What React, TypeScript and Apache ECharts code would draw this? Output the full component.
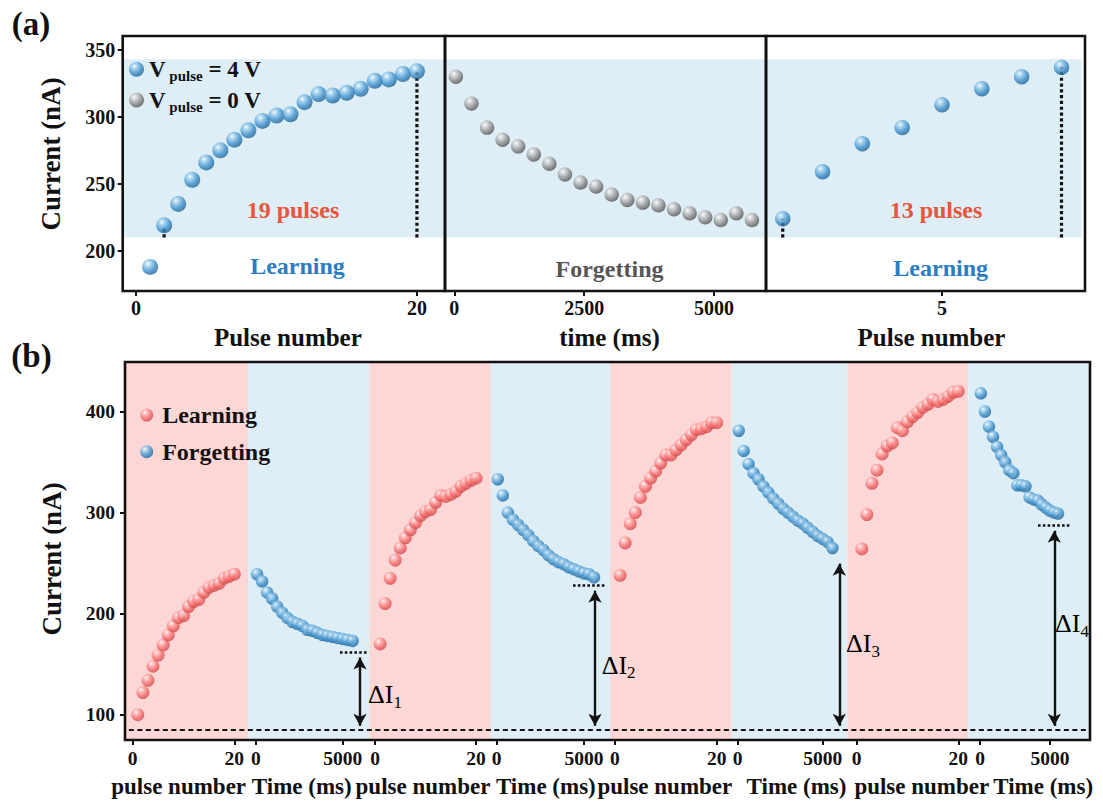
import React, { useEffect, useRef } from 'react';
import * as echarts from 'echarts';

// ---------------- data (a) ----------------
const topLearnPulse = [1, 2, 3, 4, 5, 6, 7, 8, 9, 10, 11, 12, 13, 14, 15, 16, 17, 18, 19, 20];
const topLearnCurrent = [188, 219, 235, 253, 266, 275, 283, 290, 297, 301, 302, 311, 317, 316, 318, 321, 327, 328, 332, 334];
const topForgetTime = [30, 330, 630, 930, 1230, 1530, 1830, 2130, 2430, 2730, 3030, 3330, 3630, 3930, 4230, 4530, 4830, 5130, 5430, 5730];
const topForgetCurrent = [330, 310, 292, 283, 278, 272, 265, 257, 251, 248, 242, 238, 236, 234, 231, 228, 225, 223, 228, 223];
const topRelearnPulse = [1, 2, 3, 4, 5, 6, 7, 8];
const topRelearnCurrent = [224, 259, 280, 292, 309, 321, 330, 337];
const topBand = [210, 343];
const topYTicks = [200, 250, 300, 350];

// ---------------- data (b) ----------------
const learnPulse = [1, 2, 3, 4, 5, 6, 7, 8, 9, 10, 11, 12, 13, 14, 15, 16, 17, 18, 19, 20];
const learn1 = [100, 122, 134, 148, 159, 169, 179, 188, 196, 198, 207, 212, 214, 221, 226, 228, 230, 235, 237, 239];
const learn2 = [170, 210, 235, 253, 265, 275, 283, 290, 297, 301, 303, 310, 317, 316, 318, 321, 326, 329, 332, 334];
const learn3 = [238, 270, 289, 300, 315, 326, 334, 341, 349, 357, 357, 362, 367, 372, 377, 382, 383, 385, 389, 389];
const learn4 = [264, 298, 329, 342, 358, 366, 369, 384, 381, 390, 395, 399, 404, 407, 412, 410, 412, 415, 419, 420];
const forgetTime = [60, 350, 640, 930, 1220, 1510, 1800, 2090, 2380, 2670, 2960, 3250, 3540, 3830, 4120, 4410, 4700, 4990, 5280, 5570];
const forget1 = [239, 232, 221, 215, 207, 201, 196, 192, 190, 188, 184, 183, 181, 179, 178, 177, 176, 175, 174, 173];
const forget2 = [333, 317, 300, 293, 288, 283, 278, 272, 267, 263, 258, 254, 251, 249, 246, 244, 242, 240, 239, 236];
const forget3 = [381, 361, 348, 339, 333, 326, 320, 314, 309, 304, 300, 296, 292, 289, 285, 281, 277, 274, 271, 265];
const forget4 = [418, 400, 385, 375, 365, 357, 350, 342, 339, 327, 327, 326, 315, 313, 312, 308, 305, 302, 300, 299];
const learnSets = [learn1, learn2, learn3, learn4];
const forgetSets = [forget1, forget2, forget3, forget4];
const baseline = 85;
const deltaTop = [161.7, 227.7, 254.5, 287];
const arrowTime = [5998, 5630, 5976, 5307];
const dotSpan = [[4844, 6459], [4370, 6203], [4841, 6782], [4143, 6429]];
const botYTicks = [100, 200, 300, 400];

// ---------------- layout / style ----------------
const FONT = "'Liberation Serif', 'Times New Roman', Times, serif";
const INK = '#111111';
const BAND = '#DDEEF7';
const PINK = '#FDD6D6';
const bold = (size: number) => ({ fontFamily: FONT, fontWeight: 'bold' as const, fontSize: size, color: INK });
const plain = (v: number) => String(v);

const sphere = (light: string, mid: string, dark: string) => ({
  type: 'radial', x: 0.36, y: 0.3, r: 0.75,
  colorStops: [
    { offset: 0, color: '#ffffff' },
    { offset: 0.2, color: light },
    { offset: 0.62, color: mid },
    { offset: 1, color: dark },
  ],
});
const blueBall = sphere('#a6d3f0', '#3d8fca', '#1d5c8c');
const grayBall = sphere('#d6d6d6', '#8a8a8a', '#4a4a4a');
const redBall = sphere('#ffc0c0', '#f46c6c', '#c84545');

const topBoxes = [
  { left: 122.7, width: 322.3 },
  { left: 445, width: 321 },
  { left: 766, width: 319 },
];
const botEdges = [125, 248.3, 369.3, 490.7, 610, 731.7, 847.3, 968.3, 1090];
const botLearnRange = [[-1.52, 22.76], [-1.13, 22.9], [-0.98, 22.95], [-1.85, 21.97]];
const botForgetRange = [[-444, 6534], [-344, 6489], [-353, 6447], [-836, 7857]];
const learnNamePad = [[0, 16, 0, 0], [0, 14, 0, 0], [0, 12, 0, 0], [0, 0, 0, 28]];
const forgetNamePad = [[0, 14, 0, 0], [0, 9, 0, 0], [0, 0, 0, 14], [0, 0, 0, 28]];

function xAx(gi: number, min: number, max: number, ticks: number[], name: string, nameSize: number, labelSize: number, gap: number, margin: number, pad: number[]) {
  return {
    type: 'value', gridIndex: gi, min, max,
    axisLine: { show: false, onZero: false },
    axisTick: { show: true, inside: false, customValues: ticks, length: 5, lineStyle: { color: INK, width: 2 } },
    axisLabel: { show: true, customValues: ticks, margin, formatter: plain, ...bold(labelSize) },
    splitLine: { show: false },
    name, nameLocation: 'middle', nameGap: gap, nameMoveOverlap: false,
    nameTextStyle: { ...bold(nameSize), padding: pad },
  };
}
function yAx(gi: number, min: number, max: number, ticks: number[] | null, labelSize: number, margin: number) {
  if (!ticks) return { type: 'value', gridIndex: gi, min, max, show: false, axisLine: { onZero: false }, splitLine: { show: false } };
  return {
    type: 'value', gridIndex: gi, min, max,
    axisLine: { show: false, onZero: false },
    axisTick: { show: true, inside: false, customValues: ticks, length: 5, lineStyle: { color: INK, width: 2 } },
    axisLabel: { show: true, customValues: ticks, margin, formatter: plain, ...bold(labelSize) },
    splitLine: { show: false },
  };
}
const zip = (xs: number[], ys: number[]) => xs.map((x, i) => [x, ys[i]]);
const dottedV = (gi: number, x: number, y1: number, y2: number) => ({
  type: 'line', xAxisIndex: gi, yAxisIndex: gi, z: 2, symbol: 'none', silent: true,
  data: [[x, y1], [x, y2]],
  lineStyle: { color: INK, width: 3.2, type: [3.2, 2.6], cap: 'butt' },
});

function buildOption() {
  const grids: any[] = [];
  const xAxes: any[] = [];
  const yAxes: any[] = [];
  const series: any[] = [];

  // ----- top (a) -----
  topBoxes.forEach((b) =>
    grids.push({
      left: b.left, top: 36, width: b.width, height: 255, show: true,
      backgroundColor: 'rgba(0,0,0,0)', borderColor: INK, borderWidth: 2.6, z: 10,
      containLabel: false, outerBoundsMode: 'none',
    })
  );
  xAxes.push(xAx(0, -0.95, 22, [0, 20], 'Pulse number', 25, 20, 33.5, 7, [0, 0, 0, 8]));
  xAxes.push(xAx(1, -179, 6001, [0, 2500, 5000], 'time (ms)', 25, 20, 33.5, 7, [0, 0, 0, 8]));
  xAxes.push(xAx(2, 0.58, 8.59, [5], 'Pulse number', 25, 20, 33.5, 7, [0, 0, 0, 12]));
  yAxes.push(yAx(0, 170, 360.4, topYTicks, 20, 7.5));
  yAxes.push(yAx(1, 170, 360.4, null, 20, 7));
  yAxes.push(yAx(2, 170, 360.4, null, 20, 7));

  series.push(dottedV(0, topLearnPulse[1], topBand[0], topLearnCurrent[1]));
  series.push(dottedV(0, topLearnPulse[19], topBand[0], topLearnCurrent[19]));
  series.push({
    type: 'scatter', name: 'Vpulse = 4 V', xAxisIndex: 0, yAxisIndex: 0, z: 3, clip: false,
    symbolSize: 16, itemStyle: { color: blueBall }, data: zip(topLearnPulse, topLearnCurrent),
    markArea: { silent: true, itemStyle: { color: BAND, opacity: 1 }, data: [[{ yAxis: topBand[0] }, { yAxis: topBand[1] }]] },
  });
  series.push({
    type: 'scatter', name: 'Vpulse = 0 V', xAxisIndex: 1, yAxisIndex: 1, z: 3, clip: false,
    symbolSize: 14.5, itemStyle: { color: grayBall }, data: zip(topForgetTime, topForgetCurrent),
    markArea: { silent: true, itemStyle: { color: BAND, opacity: 1 }, data: [[{ yAxis: topBand[0] }, { yAxis: topBand[1] }]] },
  });
  series.push(dottedV(2, topRelearnPulse[0], topBand[0], topRelearnCurrent[0]));
  series.push(dottedV(2, topRelearnPulse[7], topBand[0], topRelearnCurrent[7]));
  series.push({
    type: 'scatter', name: 'Vpulse = 4 V', xAxisIndex: 2, yAxisIndex: 2, z: 3, clip: false,
    symbolSize: 15.5, itemStyle: { color: blueBall }, data: zip(topRelearnPulse, topRelearnCurrent),
    markArea: { silent: true, itemStyle: { color: BAND, opacity: 1 }, data: [[{ yAxis: topBand[0], xAxis: 0.58 }, { yAxis: topBand[1], xAxis: 8.5 }]] },
  });

  // ----- bottom (b) -----
  for (let s = 0; s < 8; s++) {
    const gi = 3 + s;
    const learning = s % 2 === 0;
    const k = Math.floor(s / 2);
    grids.push({
      left: botEdges[s], top: 362, width: botEdges[s + 1] - botEdges[s], height: 378, show: true,
      backgroundColor: learning ? PINK : BAND, borderWidth: 0, containLabel: false, outerBoundsMode: 'none',
    });
    if (learning) {
      xAxes.push(xAx(gi, botLearnRange[k][0], botLearnRange[k][1], [0, 20], 'pulse number', 23, 19.5, 34.5, 8, learnNamePad[k]));
    } else {
      xAxes.push(xAx(gi, botForgetRange[k][0], botForgetRange[k][1], [0, 5000], 'Time (ms)', 23, 19.5, 34.5, 8, forgetNamePad[k]));
    }
    yAxes.push(s === 0 ? yAx(gi, 75, 449, botYTicks, 19.5, 10) : yAx(gi, 75, 449, null, 19, 8));

    if (learning) {
      series.push({
        type: 'scatter', name: 'Learning', xAxisIndex: gi, yAxisIndex: gi, z: 3, clip: false,
        symbolSize: 13, itemStyle: { color: redBall }, data: zip(learnPulse, learnSets[k]),
      });
    } else {
      const t = arrowTime[k];
      series.push({
        type: 'scatter', name: 'Forgetting', xAxisIndex: gi, yAxisIndex: gi, z: 3, clip: false,
        symbolSize: 12.5, itemStyle: { color: blueBall }, data: zip(forgetTime, forgetSets[k]),
        markLine: {
          silent: true, symbol: ['arrow', 'arrow'], symbolSize: [10, 12],
          label: { show: false },
          lineStyle: { color: INK, width: 2.4, type: 'solid' },
          data: [
            [{ coord: [t, deltaTop[k] - 5] }, { coord: [t, baseline + 4] }],
            [
              { coord: [dotSpan[k][0], deltaTop[k]], symbol: 'none', lineStyle: { color: INK, width: 2.6, type: [2.6, 2.2] } },
              { coord: [dotSpan[k][1], deltaTop[k]], symbol: 'none', lineStyle: { color: INK, width: 2.6, type: [2.6, 2.2] } },
            ],
          ],
        },
      });
    }
  }
  // outer frame of (b)
  grids.push({
    left: 125, top: 362, width: 965, height: 378, show: true, backgroundColor: 'rgba(0,0,0,0)',
    borderColor: INK, borderWidth: 2.6, z: 10, containLabel: false, outerBoundsMode: 'none',
  });
  xAxes.push({ type: 'value', gridIndex: 11, min: 0, max: 1, show: false, axisLine: { onZero: false }, splitLine: { show: false } });
  yAxes.push({ type: 'value', gridIndex: 11, min: 75, max: 449, show: false, axisLine: { onZero: false }, splitLine: { show: false } });
  series.push({
    type: 'line', xAxisIndex: 11, yAxisIndex: 11, z: 2, symbol: 'none', silent: true,
    data: [[0.004, baseline], [1, baseline]],
    lineStyle: { color: INK, width: 2, type: [5, 3.5] },
  });

  const deltaRich = {
    d: { fontFamily: FONT, fontSize: 26, color: INK, lineHeight: 32 },
    s: { fontFamily: FONT, fontSize: 17, color: INK, lineHeight: 12, verticalAlign: 'bottom' },
  };
  const deltaPos = [[368, 694.7], [601.7, 665.3], [846, 643.7], [1055, 623.7]];

  const txt = (x: number, y: number, text: string, size: number, color: string, extra: any = {}) => ({
    type: 'text', x, y, z: 20, silent: true,
    style: { text, fontFamily: FONT, fontWeight: 'bold', fontSize: size, fill: color, align: 'center', verticalAlign: 'middle', ...extra },
  });

  const graphic: any[] = [
    txt(31, 24, '(a)', 33, INK),
    txt(31.5, 356, '(b)', 33, INK),
    { ...txt(50.7, 154, 'Current (nA)', 27, INK), rotation: Math.PI / 2 },
    { ...txt(51.7, 559, 'Current (nA)', 27, INK), rotation: Math.PI / 2 },
    txt(293, 210, '19 pulses', 24, '#E8553A'),
    txt(297.5, 266, 'Learning', 24, '#2A7DC3'),
    txt(609.5, 269, 'Forgetting', 24, '#565656'),
    txt(936, 210, '13 pulses', 24, '#E8553A'),
    txt(940.7, 268, 'Learning', 24, '#2A7DC3'),
    ...deltaPos.map((p, i) => ({
      type: 'text', x: p[0], y: p[1], z: 20, silent: true,
      style: { text: `{d|ΔI}{s|${i + 1}}`, rich: deltaRich, align: 'left', verticalAlign: 'middle' },
    })),
  ];

  return {
    animation: false,
    backgroundColor: '#ffffff',
    tooltip: { show: false },
    grid: grids,
    xAxis: xAxes,
    yAxis: yAxes,
    series,
    graphic,
    legend: [
      {
        data: ['Vpulse = 4 V', 'Vpulse = 0 V'], orient: 'vertical', left: 129, top: 57.7, padding: 0,
        icon: 'circle', itemWidth: 15, itemHeight: 15, itemGap: 5.3, selectedMode: false,
        formatter: (n: string) => (n.indexOf('4') >= 0 ? '{v|V}{s| pulse}{v| = 4 V}' : '{v|V}{s| pulse}{v| = 0 V}'),
        textStyle: {
          rich: {
            v: { fontFamily: FONT, fontWeight: 'bold', fontSize: 23, color: INK, lineHeight: 28 },
            s: { fontFamily: FONT, fontWeight: 'bold', fontSize: 15, color: INK, lineHeight: 11, verticalAlign: 'bottom' },
          },
        },
      },
      {
        data: ['Learning', 'Forgetting'], orient: 'vertical', left: 140.2, top: 402, padding: 0,
        icon: 'circle', itemWidth: 13, itemHeight: 13, itemGap: 10.7, selectedMode: false,
        textStyle: { ...bold(24), lineHeight: 26, padding: [0, 0, 0, 4] },
      },
    ],
  };
}

export default function App() {
  const ref = useRef<HTMLDivElement>(null);
  useEffect(() => {
    const chart = echarts.init(ref.current as HTMLDivElement, null, { renderer: 'svg' });
    chart.setOption(buildOption() as any);
    return () => chart.dispose();
  }, []);
  return (
    <div
      ref={ref}
      style={{ position: 'absolute', left: 0, top: 0, width: 1103, height: 803, background: '#ffffff' }}
    />
  );
}
